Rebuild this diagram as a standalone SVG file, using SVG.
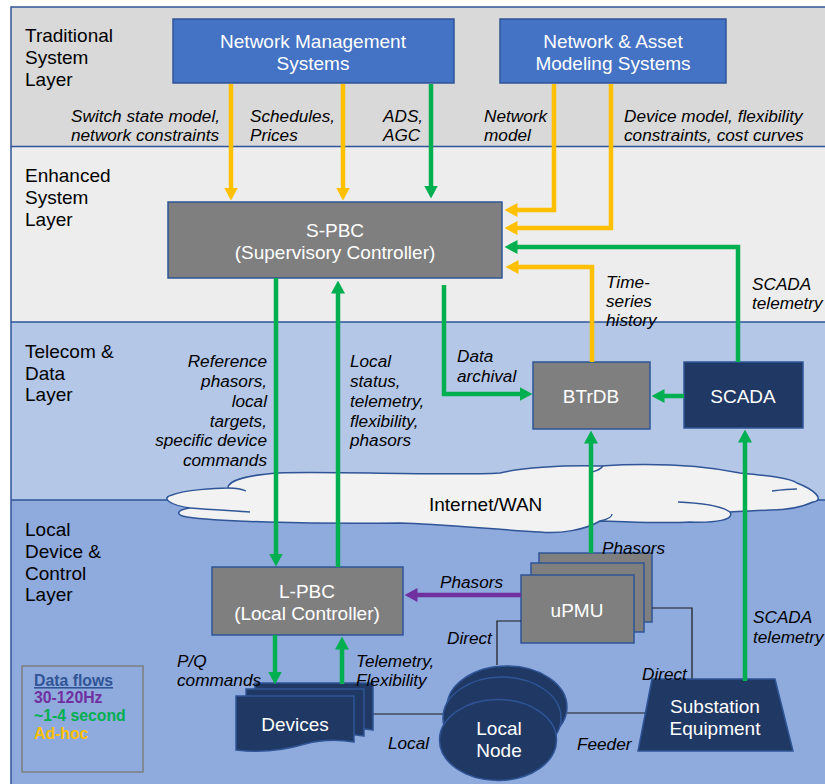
<svg xmlns="http://www.w3.org/2000/svg" width="825" height="784" viewBox="0 0 825 784">
  <defs>
    <style>
      .lbl { font-family: "Liberation Sans", Arial, sans-serif; font-size: 19px; fill: #000; }
      .it { font-family: "Liberation Sans", Arial, sans-serif; font-size: 17.2px; font-style: italic; fill: #000; }
      .nt { font-family: "Liberation Sans", Arial, sans-serif; font-size: 19px; fill: #fff; text-anchor: middle; }
      .leg { font-family: "Liberation Sans", Arial, sans-serif; font-size: 15.8px; font-weight: bold; }
      .blue { fill: #4472c4; stroke: #2f5597; stroke-width: 1.5; }
      .gray { fill: #7f7f7f; stroke: #2f5597; stroke-width: 1.5; }
      .navy { fill: #203864; stroke: #2f5597; stroke-width: 1.5; }
      .sep { stroke: #2f5597; stroke-width: 1.5; fill: none; }
      .y { stroke: #ffc000; stroke-width: 4.5; fill: none; marker-end: url(#ahY); }
      .g { stroke: #00b050; stroke-width: 4.5; fill: none; marker-end: url(#ahG); }
      .p { stroke: #7030a0; stroke-width: 4.5; fill: none; marker-end: url(#ahP); }
      .thin { stroke: #1a1a1a; stroke-width: 1.2; fill: none; }
    </style>
    <marker id="ahY" markerUnits="userSpaceOnUse" markerWidth="13" markerHeight="14" viewBox="0 0 13 14" refX="0.5" refY="7" orient="auto">
      <path d="M0,0 L13,7 L0,14 Z" fill="#ffc000"/>
    </marker>
    <marker id="ahG" markerUnits="userSpaceOnUse" markerWidth="13" markerHeight="14" viewBox="0 0 13 14" refX="0.5" refY="7" orient="auto">
      <path d="M0,0 L13,7 L0,14 Z" fill="#00b050"/>
    </marker>
    <marker id="ahP" markerUnits="userSpaceOnUse" markerWidth="13" markerHeight="14" viewBox="0 0 13 14" refX="0.5" refY="7" orient="auto">
      <path d="M0,0 L13,7 L0,14 Z" fill="#7030a0"/>
    </marker>
  </defs>

  <rect x="0" y="0" width="825" height="784" fill="#ffffff"/>

  <!-- layer bands -->
  <g id="layers">
    <rect x="11" y="7" width="814" height="139" fill="#d9d9d9"/>
    <rect x="11" y="146" width="814" height="176" fill="#ededed"/>
    <rect x="11" y="322" width="814" height="178" fill="#b4c7e7"/>
    <rect x="11" y="500" width="814" height="284" fill="#8faadc"/>
    <path class="sep" d="M11,784 V7 H825"/>
    <path class="sep" d="M11,146.5 H825"/>
    <path class="sep" d="M11,322 H825"/>
    <path class="sep" d="M11,500 H190 M800,500 H825"/>
    <text class="lbl" x="25" y="42">Traditional</text>
    <text class="lbl" x="25" y="64">System</text>
    <text class="lbl" x="25" y="86">Layer</text>
    <text class="lbl" x="25" y="182">Enhanced</text>
    <text class="lbl" x="25" y="204">System</text>
    <text class="lbl" x="25" y="226">Layer</text>
    <text class="lbl" x="25" y="358">Telecom &amp;</text>
    <text class="lbl" x="25" y="380">Data</text>
    <text class="lbl" x="25" y="401">Layer</text>
    <text class="lbl" x="25" y="536">Local</text>
    <text class="lbl" x="25" y="558">Device &amp;</text>
    <text class="lbl" x="25" y="580">Control</text>
    <text class="lbl" x="25" y="601">Layer</text>
  </g>

  <!-- Internet / WAN cloud -->
  <g id="cloud">
    <path fill="#f2f2f2" stroke="#2f5597" stroke-width="1.5" d="M278,473 C330,471 450,476 500,473 C520,468 560,465 600,466 C650,463 700,465 740,473 C770,476 790,478 797,483 C815,490 825,500 813,502 C800,508 785,510 770,510 C755,511 740,511 730,512 C735,520 715,523 690,522 C660,524 620,521 600,521 C585,530 560,534 540,532 C500,530 440,524 400,523 C340,524 300,523 268,522 C230,521 200,519 187,517 C175,515 176,510 190,508 C170,505 160,498 172,495 C185,490 215,488 228,488 C228,480 250,475 278,473 Z"/>
    <path fill="none" stroke="#2f5597" stroke-width="1.3" d="M678,502 C700,503 722,506 730,512 M772,491 C780,490 790,489 797,489 M228,488 C236,488 242,489 246,491 M600,521 C610,519 612,516 612,514 M603,466 C600,470 596,471 592,472 M250,512 C240,511 215,510 190,508"/>
    <text class="lbl" x="429" y="511">Internet/WAN</text>
  </g>

  <!-- nodes -->
  <g id="nms">
    <rect class="blue" x="173" y="19" width="281" height="64"/>
    <text class="nt" x="313" y="48">Network Management</text>
    <text class="nt" x="313" y="70">Systems</text>
  </g>
  <g id="nams">
    <rect class="blue" x="500" y="19" width="226" height="64"/>
    <text class="nt" x="613" y="48">Network &amp; Asset</text>
    <text class="nt" x="613" y="70">Modeling Systems</text>
  </g>
  <g id="spbc">
    <rect class="gray" x="168" y="202" width="334" height="76"/>
    <text class="nt" x="335" y="237">S-PBC</text>
    <text class="nt" x="335" y="259">(Supervisory Controller)</text>
  </g>
  <g id="btrdb">
    <rect class="gray" x="533" y="362" width="117" height="67"/>
    <text class="nt" x="591" y="403">BTrDB</text>
  </g>
  <g id="scada">
    <rect class="navy" x="684" y="362" width="119" height="66"/>
    <text class="nt" x="743" y="403">SCADA</text>
  </g>
  <g id="lpbc">
    <rect class="gray" x="212" y="567" width="191" height="68"/>
    <text class="nt" x="307" y="598">L-PBC</text>
    <text class="nt" x="307" y="620">(Local Controller)</text>
  </g>
  <g id="upmu">
    <rect class="gray" x="539" y="553" width="113" height="69"/>
    <rect class="gray" x="531" y="563" width="113" height="69"/>
    <rect class="gray" x="521" y="575" width="113" height="68"/>
    <text class="nt" x="577" y="617">uPMU</text>
  </g>

  <!-- thin physical links (drawn under the equipment) -->
  <g id="connectors-physical">
    <path class="thin" d="M521,621 H497 V665"/>
    <path class="thin" d="M652,608 H692 V679"/>
    <path class="thin" d="M373,714 H450"/>
    <path class="thin" d="M560,713 H651"/>
  </g>

  <g id="devices">
    <path class="navy" d="M255,683 H373 V730 C355,727 340,728 325,732 C305,738 280,740 255,737 Z"/>
    <path class="navy" d="M246,689 H364 V736 C346,733 331,734 316,738 C296,744 271,746 246,743 Z"/>
    <path class="navy" d="M236,696 H354 V742 C336,739 320,740 305,744 C285,750 260,753 236,750 Z"/>
    <text class="nt" x="295" y="731">Devices</text>
  </g>
  <g id="localnode">
    <ellipse class="navy" cx="507" cy="707" rx="60" ry="41"/>
    <ellipse class="navy" cx="502" cy="718" rx="59" ry="41"/>
    <ellipse class="navy" cx="498" cy="740" rx="58.5" ry="40.5"/>
    <text class="nt" x="499" y="735">Local</text>
    <text class="nt" x="499" y="757">Node</text>
  </g>
  <g id="substation">
    <polygon class="navy" points="652,679 775,679 793,751 638,751"/>
    <text class="nt" x="715" y="713">Substation</text>
    <text class="nt" x="715" y="735">Equipment</text>
  </g>

  <!-- data-flow connectors -->
  <g id="connectors">
    <path class="y" d="M231,84 V188"/>
    <path class="y" d="M343,84 V188"/>
    <path class="y" d="M554,84 V210 H517"/>
    <path class="y" d="M611,84 V228 H517"/>
    <path class="y" d="M592,362 V267 H518"/>
    <path class="g" d="M431,84 V186"/>
    <path class="g" d="M738,362 V247 H517"/>
    <path class="g" d="M276,278 V554"/>
    <path class="g" d="M338,567 V293"/>
    <path class="g" d="M444,285 V394 H520"/>
    <path class="g" d="M684,396 H664"/>
    <path class="g" d="M591,553 V443"/>
    <path class="g" d="M745,681 V442"/>
    <path class="g" d="M275,635 V672"/>
    <path class="g" d="M342,684 V649"/>
    <path class="p" d="M521,595 H417"/>
  </g>

  <!-- connector labels -->
  <g id="labels">
    <text class="it" x="71" y="122">Switch state model,</text>
    <text class="it" x="71" y="141">network constraints</text>
    <text class="it" x="250" y="122">Schedules,</text>
    <text class="it" x="250" y="141">Prices</text>
    <text class="it" x="383" y="122">ADS,</text>
    <text class="it" x="383" y="141">AGC</text>
    <text class="it" x="484" y="122">Network</text>
    <text class="it" x="484" y="141">model</text>
    <text class="it" x="624" y="122">Device model, flexibility</text>
    <text class="it" x="624" y="141">constraints, cost curves</text>
    <text class="it" x="606" y="288">Time-</text>
    <text class="it" x="606" y="307">series</text>
    <text class="it" x="606" y="326">history</text>
    <text class="it" x="752" y="290">SCADA</text>
    <text class="it" x="752" y="309">telemetry</text>
    <g text-anchor="end">
      <text class="it" x="267" y="367">Reference</text>
      <text class="it" x="267" y="387">phasors,</text>
      <text class="it" x="267" y="407">local</text>
      <text class="it" x="267" y="427">targets,</text>
      <text class="it" x="267" y="446">specific device</text>
      <text class="it" x="267" y="466">commands</text>
    </g>
    <text class="it" x="350" y="367">Local</text>
    <text class="it" x="350" y="387">status,</text>
    <text class="it" x="350" y="407">telemetry,</text>
    <text class="it" x="350" y="427">flexibility,</text>
    <text class="it" x="350" y="446">phasors</text>
    <text class="it" x="457" y="362">Data</text>
    <text class="it" x="457" y="382">archival</text>
    <text class="it" x="602" y="554">Phasors</text>
    <text class="it" x="440" y="588">Phasors</text>
    <text class="it" x="447" y="644">Direct</text>
    <text class="it" x="642" y="680">Direct</text>
    <text class="it" x="753" y="623">SCADA</text>
    <text class="it" x="753" y="643">telemetry</text>
    <text class="it" x="177" y="667">P/Q</text>
    <text class="it" x="177" y="686">commands</text>
    <text class="it" x="356" y="667">Telemetry,</text>
    <text class="it" x="356" y="686">Flexibility</text>
    <text class="it" x="388" y="749">Local</text>
    <text class="it" x="577" y="750">Feeder</text>
  </g>

  <!-- legend -->
  <g id="legend">
    <rect x="22" y="666" width="121" height="106" fill="none" stroke="#7f7f7f" stroke-width="1.5"/>
    <text class="leg" x="34" y="686" fill="#2f5597" text-decoration="underline">Data flows</text>
    <text class="leg" x="34" y="703" fill="#7030a0">30-120Hz</text>
    <text class="leg" x="34" y="721" fill="#00b050">~1-4 second</text>
    <text class="leg" x="34" y="739" fill="#ffc000">Ad-hoc</text>
  </g>
</svg>
